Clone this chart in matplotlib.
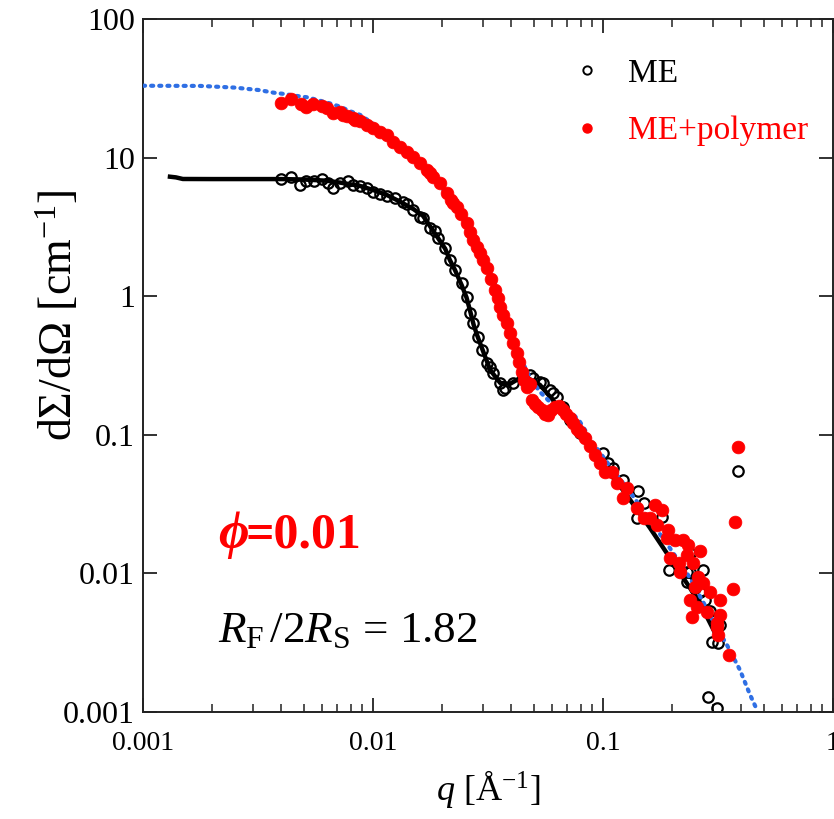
import matplotlib
matplotlib.use("Agg")
import matplotlib.pyplot as plt
from matplotlib.lines import Line2D
from matplotlib.ticker import FixedLocator, FixedFormatter, LogLocator, NullLocator

plt.rcParams['font.family'] = ['Liberation Serif', 'DejaVu Serif']
plt.rcParams['mathtext.fontset'] = 'custom'
plt.rcParams['mathtext.rm'] = 'Liberation Serif'
plt.rcParams['mathtext.it'] = 'Liberation Serif:italic'
plt.rcParams['mathtext.bf'] = 'Liberation Serif:bold'

# Microemulsion (ME) scattering data, q in 1/Angstrom, intensity in 1/cm
q_me = [0.00398, 0.00439, 0.00481, 0.00511, 0.00554, 0.00598, 0.00637, 0.00672, 0.00719,
        0.00780, 0.00821, 0.00878, 0.00939, 0.01003, 0.01072, 0.01147, 0.01247, 0.01355,
        0.0140, 0.01497, 0.0160, 0.01655, 0.0177, 0.01862, 0.01923, 0.0206, 0.0216, 0.0227,
        0.0243, 0.0255, 0.0264, 0.0273, 0.0287, 0.0297, 0.0312, 0.0323, 0.0334, 0.0357,
        0.0367, 0.0375, 0.0407, 0.0450, 0.0482, 0.0498, 0.0532, 0.0550, 0.0589, 0.0608,
        0.0629, 0.0672, 0.0719, 0.0794, 0.1002, 0.1054, 0.1109, 0.1225, 0.140, 0.1423,
        0.150, 0.180, 0.194, 0.231, 0.231, 0.239, 0.239, 0.251, 0.264, 0.271, 0.279, 0.287,
        0.292, 0.297, 0.312, 0.317, 0.323, 0.385]
I_me = [6.98, 7.28, 6.34, 6.81, 6.81, 7.04, 6.53, 6.00, 6.53,
        6.81, 6.34, 6.24, 6.00, 5.67, 5.46, 5.28, 5.09, 4.81,
        4.63, 4.19, 3.75, 3.65, 3.09, 2.95, 2.62, 2.22, 1.82, 1.55,
        1.24, 0.991, 0.753, 0.639, 0.510, 0.409, 0.329, 0.310, 0.278, 0.236,
        0.210, 0.217, 0.236, 0.262, 0.270, 0.256, 0.242, 0.236, 0.210, 0.199,
        0.188, 0.160, 0.128, 0.1025, 0.0743, 0.0622, 0.0573, 0.0472, 0.0250, 0.0395,
        0.0321, 0.0256, 0.0106, 0.0103, 0.00871, 0.0140, 0.0103, 0.00781, 0.0074, 0.0106,
        0.00643, 0.00128, 0.00538, 0.00321, 0.00106, 0.00316, 0.00424, 0.0551]

# Microemulsion with polymer
q_mp = [0.00398, 0.00439, 0.00485, 0.00511, 0.00548, 0.00598, 0.00630, 0.00672, 0.00719,
        0.00741, 0.00769, 0.00821, 0.00838, 0.00878, 0.00939, 0.01003, 0.01072, 0.01147,
        0.01225, 0.0131, 0.0140, 0.01497, 0.0160, 0.01712, 0.0177, 0.0183, 0.01955, 0.0209,
        0.0218, 0.0223, 0.0231, 0.0241, 0.0255,
        0.0264, 0.0273, 0.0283, 0.0292, 0.0301, 0.0312, 0.0326, 0.0339, 0.0348, 0.0357,
        0.0367, 0.0381, 0.0394, 0.0407, 0.0422, 0.0431, 0.0443, 0.0454, 0.0466, 0.0482,
        0.0490, 0.0506, 0.0523, 0.0543, 0.0560, 0.0578, 0.0594, 0.0618, 0.0644, 0.0672,
        0.0690, 0.0719, 0.0741, 0.0769, 0.0794, 0.0836, 0.0878, 0.0923, 0.0970, 0.102,
        0.109, 0.115, 0.1225, 0.127, 0.140, 0.150, 0.160, 0.168, 0.171, 0.180, 0.189,
        0.192, 0.195, 0.206, 0.213, 0.216, 0.223, 0.231, 0.235, 0.239, 0.243, 0.247,
        0.251, 0.255, 0.260, 0.264, 0.273, 0.282, 0.292, 0.312, 0.312, 0.317, 0.323,
        0.323, 0.354, 0.369, 0.376, 0.385]
I_mp = [24.9, 26.6, 24.3, 23.3, 24.4, 23.6, 22.9, 20.9, 21.4,
        20.3, 20.0, 19.3, 18.7, 18.5, 17.2, 16.3, 15.4, 14.6,
        13.0, 11.9, 11.0, 10.1, 9.10, 8.14, 7.74, 7.28, 6.6, 5.53,
        4.94, 4.68, 4.42, 3.92, 3.37,
        2.90, 2.54, 2.26, 2.05, 1.82, 1.60, 1.33, 1.11, 0.970, 0.840,
        0.731, 0.641, 0.542, 0.459, 0.389, 0.335, 0.286, 0.249, 0.222, 0.232,
        0.178, 0.167, 0.160, 0.151, 0.141, 0.139, 0.151, 0.160, 0.162, 0.151,
        0.141, 0.132, 0.122, 0.111, 0.105, 0.0944, 0.0830, 0.0715, 0.0626, 0.0542,
        0.0542, 0.0447, 0.0348, 0.0411, 0.0295, 0.0250, 0.0250, 0.0312, 0.0223, 0.0287, 0.0179,
        0.0206, 0.0129, 0.0174, 0.0118, 0.0103, 0.0174, 0.0136, 0.0160, 0.00643, 0.00487, 0.0118,
        0.00802, 0.00575, 0.00946, 0.0144, 0.00849, 0.00529, 0.00738, 0.00437, 0.00412, 0.00360, 0.00643,
        0.00501, 0.00258, 0.00771, 0.0234, 0.0812]

# Model curve for ME
q_me_fit = [0.00131, 0.00139, 0.00149, 0.0020, 0.0030, 0.0040, 0.0050, 0.0063, 0.0072,
            0.0088, 0.0100, 0.0115, 0.0131, 0.0150, 0.0165, 0.0177, 0.0192, 0.0206, 0.0216,
            0.0227, 0.0243, 0.0255, 0.0264, 0.0274, 0.0284, 0.0292, 0.0323, 0.0357, 0.0394,
            0.0436, 0.0482, 0.0532, 0.0606, 0.0684, 0.0794, 0.100, 0.125, 0.160, 0.216,
            0.264, 0.310]
I_me_fit = [7.28, 7.2, 7.01, 7.0, 7.0, 7.0, 6.95, 6.81, 6.6,
            6.24, 5.84, 5.37, 4.81, 4.25, 3.8, 3.2, 2.62, 2.2, 1.82,
            1.55, 1.2, 0.98, 0.79, 0.62, 0.52, 0.459, 0.294, 0.237, 0.233,
            0.257, 0.251, 0.229, 0.178, 0.139, 0.0997, 0.0607, 0.0380, 0.0213, 0.0101,
            0.00611, 0.00360]

# Model curve for ME+polymer
q_mp_fit = [0.001, 0.00177, 0.0025, 0.0032, 0.0037, 0.0041, 0.0047, 0.0052, 0.0059, 0.0065,
            0.0072, 0.0079, 0.0088, 0.0097, 0.0104, 0.0131, 0.0177, 0.0239, 0.0302, 0.0339,
            0.0394, 0.0436, 0.0482, 0.0532, 0.0589, 0.0650, 0.0741, 0.0794, 0.0905, 0.107,
            0.131, 0.160, 0.195, 0.239, 0.277, 0.307, 0.346, 0.394, 0.436, 0.463]
I_mp_fit = [33.0, 32.9, 32.0, 30.7, 29.4, 28.8, 27.8, 27.2, 25.7, 24.6,
            23.3, 21.7, 20.3, 18.2, 16.7, 12.3, 7.87, 4.05, 1.88, 1.24,
            0.570, 0.364, 0.257, 0.204, 0.172, 0.156, 0.141, 0.124, 0.0873, 0.0596,
            0.0387, 0.0243, 0.0153, 0.00927, 0.00591, 0.00424, 0.00304, 0.00201, 0.00133, 0.00107]

x_ticks = [0.001, 0.01, 0.1, 1]
x_ticklabels = ["0.001", "0.01", "0.1", "1"]
y_ticks = [0.001, 0.01, 0.1, 1, 10, 100]
y_ticklabels = ["0.001", "0.01", "0.1", "1", "10", "100"]

RED = "#ff0000"
BLUE = "#2f6fe4"

fig = plt.figure(figsize=(8.34, 8.19), dpi=100)
ax = fig.add_axes([143 / 834, 1 - 712 / 819, 690 / 834, 693 / 819])
ax.set_xscale("log")
ax.set_yscale("log")
ax.set_xlim(0.001, 1)
ax.set_ylim(0.001, 100)

ax.plot(q_me, I_me, linestyle="none", marker="o", markersize=7.5, markerfacecolor="none",
        markeredgecolor="black", markeredgewidth=1.6, zorder=2)
ax.plot(q_me_fit, I_me_fit, color="black", linewidth=3.2, zorder=3)
ax.plot(q_mp_fit, I_mp_fit, color=BLUE, linewidth=3.0, linestyle=(0, (0.5, 1.45)),
        dash_capstyle="round", zorder=4)
ax.plot(q_mp, I_mp, linestyle="none", marker="o", markersize=9.2, markerfacecolor=RED,
        markeredgecolor=RED, markeredgewidth=0.5, zorder=5)

ax.xaxis.set_major_locator(FixedLocator(x_ticks))
ax.xaxis.set_major_formatter(FixedFormatter(x_ticklabels))
ax.xaxis.set_minor_locator(LogLocator(base=10, subs=range(2, 10), numticks=20))
ax.yaxis.set_major_locator(FixedLocator(y_ticks))
ax.yaxis.set_major_formatter(FixedFormatter(y_ticklabels))
ax.yaxis.set_minor_locator(NullLocator())

for s in ax.spines.values():
    s.set_linewidth(1.4)
    s.set_color("#222222")
ax.tick_params(which="both", direction="in", top=True, right=True, color="#222222")
ax.tick_params(which="major", length=10, width=1.3)
ax.tick_params(which="minor", length=5.5, width=1.1)
ax.tick_params(axis="x", which="major", labelsize=20, pad=14)
ax.tick_params(axis="y", which="major", labelsize=23, pad=6)

ax.set_xlabel(r"$q$ [Å$^{\mathregular{-1}}$]", fontsize=26, labelpad=8)
ax.set_ylabel(r"d$\Sigma$/d$\Omega$ [cm$^{\mathregular{-1}}$]", fontsize=33)
ax.yaxis.set_label_coords(-0.088, 0.573)

handles = [
    Line2D([], [], linestyle="none", marker="o", markersize=6, markerfacecolor="none",
           markeredgecolor="black", markeredgewidth=1.4),
    Line2D([], [], linestyle="none", marker="o", markersize=6.5, markerfacecolor=RED,
           markeredgecolor=RED),
]
leg = ax.legend(handles, ["ME", "ME+polymer"], loc="upper left",
                bbox_to_anchor=(570 / 834, 1 - 58 / 819), bbox_transform=fig.transFigure,
                frameon=False, fontsize=24, handlelength=1.0, handletextpad=0.75,
                labelspacing=0.82, borderpad=0, borderaxespad=0)
leg.get_texts()[0].set_color("black")
leg.get_texts()[1].set_color(RED)

fig.text(218 / 834, 1 - 548 / 819, "ϕ", color=RED, fontsize=38, fontstyle="italic",
         fontweight="bold", family=["Liberation Serif", "DejaVu Serif"])
fig.text(246 / 834, 1 - 548 / 819, "=0.01", color=RED, fontsize=36, fontweight="bold")
fig.text(218 / 834, 1 - 642 / 819, r"$R_{\mathregular{F}}\,/2R_{\mathregular{S}}$ = 1.82",
         color="black", fontsize=32.5)

fig.savefig("out.png", dpi=100)
